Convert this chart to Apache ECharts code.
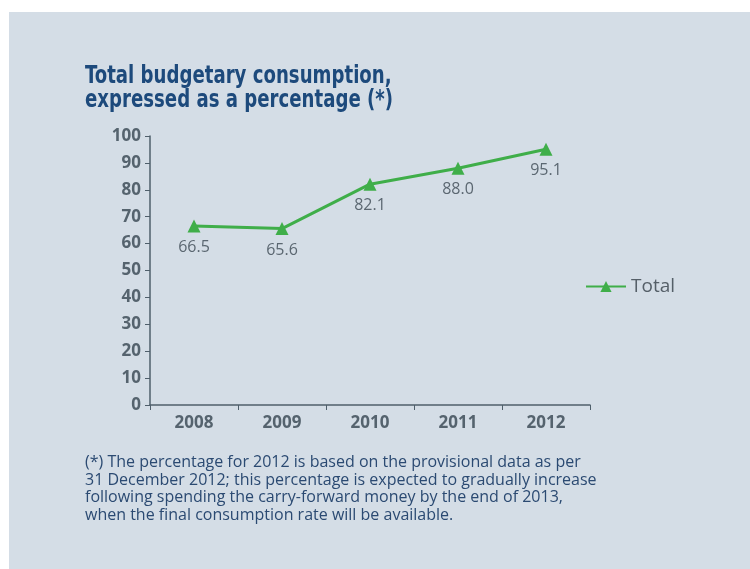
<!DOCTYPE html>
<html>
<head>
<meta charset="utf-8">
<script src="https://cdn.jsdelivr.net/npm/echarts@6/dist/echarts.min.js"></script>
<style>
  html, body { margin: 0; padding: 0; background: #ffffff; }
  #bg { position: absolute; left: 9px; top: 12px; width: 741px; height: 557px; background: #d4dde6; }
  #main { position: absolute; left: 0; top: 0; width: 750px; height: 569px; }
</style>
</head>
<body>
<div id="bg"></div>
<div id="main"></div>
<script>
// 数据
const years = ["2008", "2009", "2010", "2011", "2012"];
const totalValues = [66.5, 65.6, 82.1, 88.0, 95.1];
const seriesName = "Total";
const titleLines = ["Total budgetary consumption,", "expressed as a percentage (*)"];
const noteLines = [
  "(*) The percentage for 2012 is based on the provisional data as per",
  "31 December 2012; this percentage is expected to gradually increase",
  "following spending the carry-forward money by the end of 2013,",
  "when the final consumption rate will be available."
];

const axisColor = "#4f5f6b";
const labelColor = "#55636e";
const green = "#3fae49";

const chart = echarts.init(document.getElementById("main"));
chart.setOption({
  backgroundColor: "transparent",
  legend: {
    data: [seriesName],
    left: 580,
    top: 272,
    itemWidth: 40,
    itemHeight: 14,
    itemGap: 8,
    textStyle: { fontFamily: "Open Sans", fontSize: 19, color: "#555f68" }
  },
  grid: { left: 150, right: 160, top: 136, bottom: 164, containLabel: false },
  xAxis: {
    type: "category",
    data: years,
    boundaryGap: true,
    axisLine: { lineStyle: { color: axisColor, width: 1.5 } },
    axisTick: { show: true, interval: 0, length: 5, lineStyle: { color: axisColor } },
    axisLabel: {
      fontFamily: "Open Sans",
      fontWeight: "bold",
      fontSize: 17,
      color: labelColor,
      margin: 10
    }
  },
  yAxis: {
    type: "value",
    min: 0,
    max: 100,
    interval: 10,
    splitLine: { show: false },
    axisLine: { show: true, lineStyle: { color: axisColor, width: 1.5 } },
    axisTick: { show: true, length: 5, lineStyle: { color: axisColor } },
    axisLabel: {
      fontFamily: "Open Sans",
      fontWeight: "bold",
      fontSize: 17,
      color: labelColor,
      margin: 9
    }
  },
  series: [{
    name: seriesName,
    type: "line",
    data: totalValues,
    symbol: "triangle",
    symbolSize: 13,
    lineStyle: { color: green, width: 3 },
    itemStyle: { color: green },
    label: {
      show: true,
      position: "bottom",
      distance: 7,
      formatter: p => p.value.toFixed(1),
      fontFamily: "Open Sans",
      fontSize: 16,
      color: "#5b6771"
    }
  }],
  graphic: [{
    // 标题（窄体，水平压缩）
    type: "text",
    x: 85,
    y: 65,
    scaleX: 0.84,
    style: {
      text: titleLines.join("\n"),
      fontFamily: "DejaVu Sans Condensed, sans-serif",
      fontWeight: "bold",
      fontSize: 24,
      lineHeight: 24,
      fill: "#1d4a7c"
    }
  }, {
    type: "text",
    x: 85,
    y: 454,
    style: {
      text: noteLines.join("\n"),
      fontFamily: "Open Sans",
      fontSize: 16,
      lineHeight: 17.5,
      fill: "#2b4a72"
    }
  }]
});
</script>
</body>
</html>
